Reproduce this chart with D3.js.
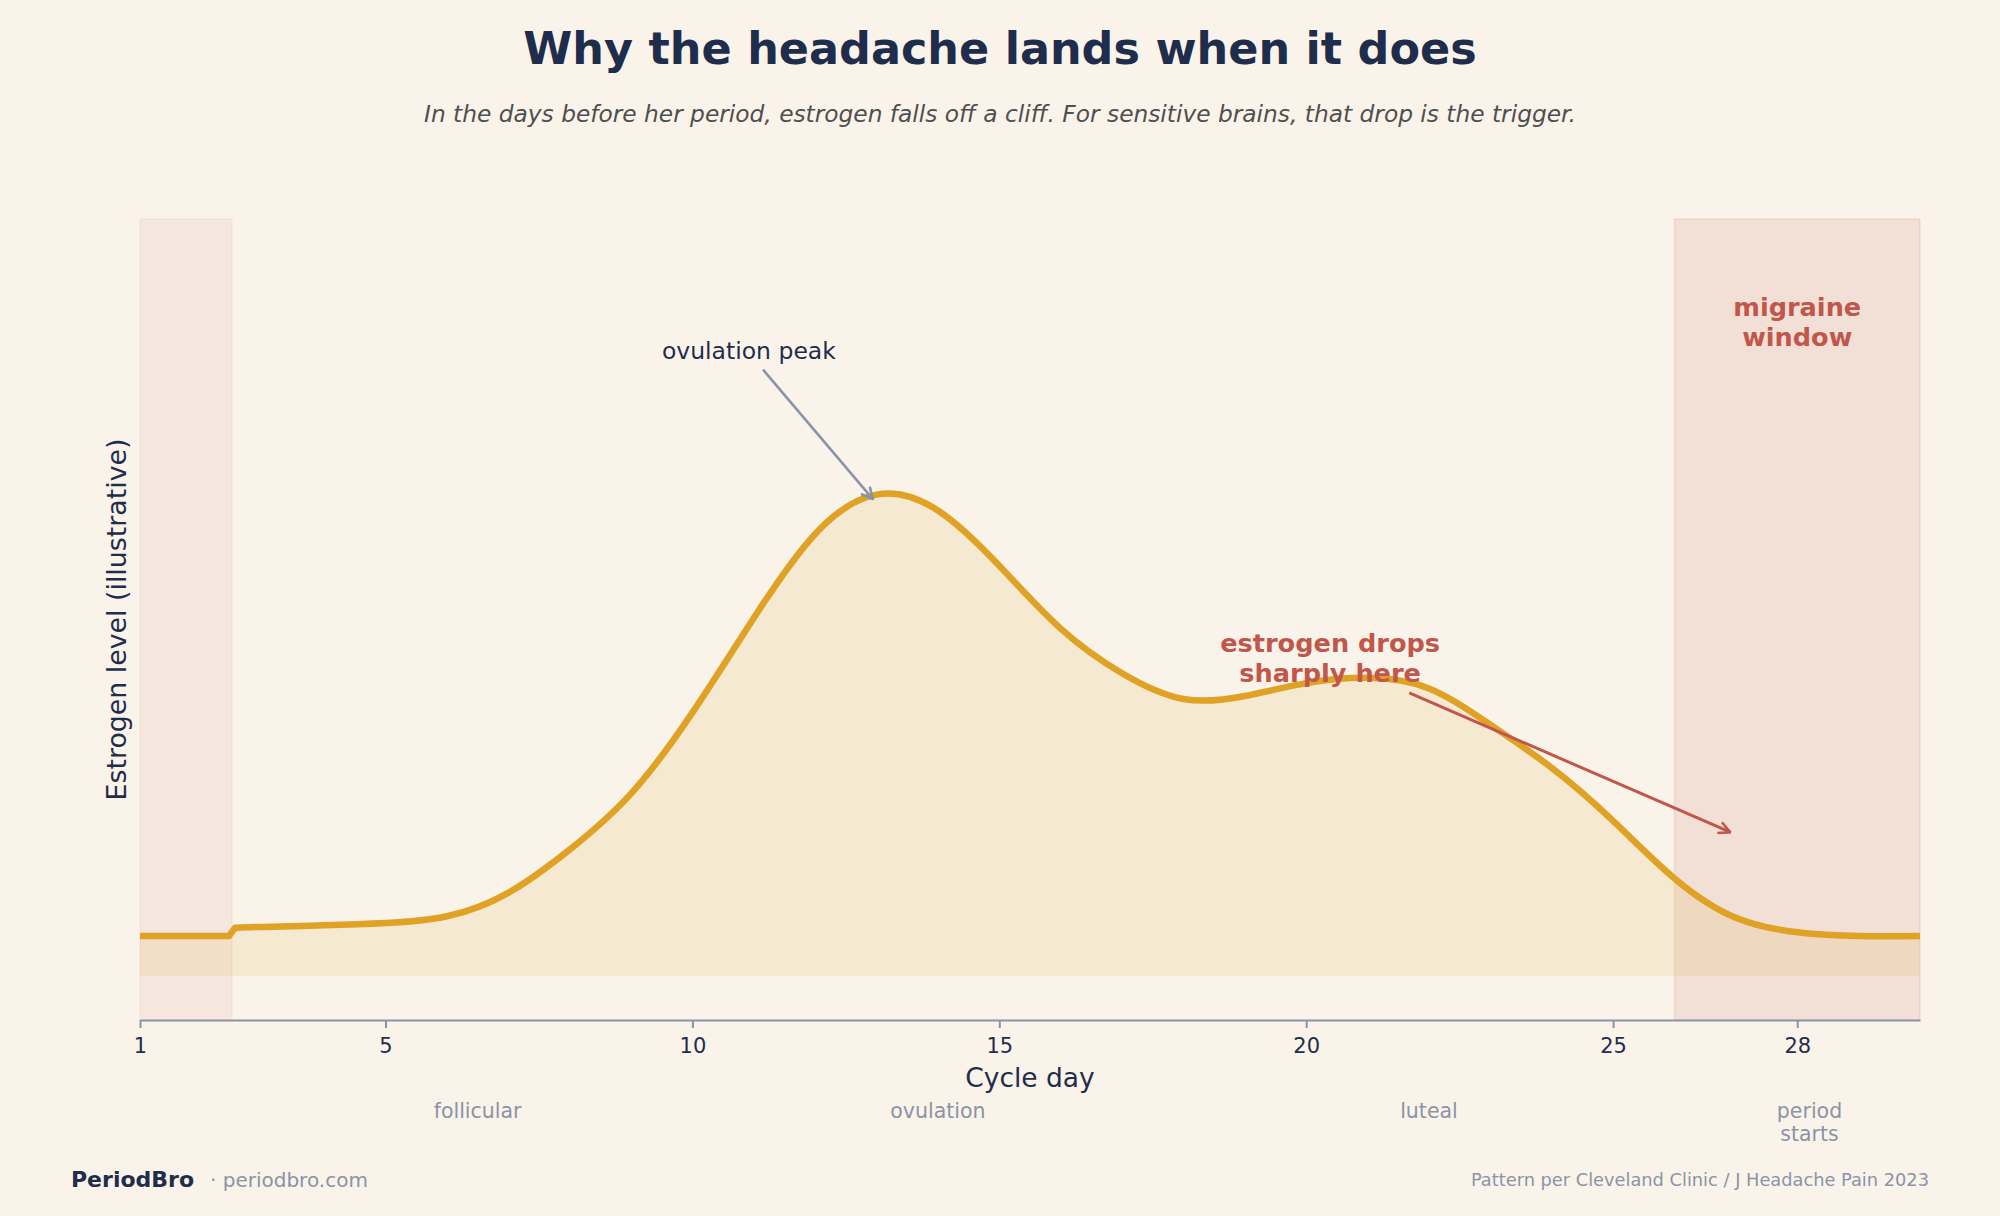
<!DOCTYPE html>
<html lang="en">
  <head>
    <meta charset="utf-8">
    <title>Why the headache lands when it does</title>
    <script src="https://d3js.org/d3.v7.min.js"></script>
    <style>
      body { margin: 0; background: #faf3ea; }
      text { font-family: "DejaVu Sans", sans-serif; }
    </style>
  </head>
  <body>
    <svg id="chart" width="2000" height="1216" xmlns="http://www.w3.org/2000/svg"></svg>
    <script>
      // values
      const days = [1, 2.45, 2.55, 3, 4, 5, 6, 7, 8, 9, 10, 11, 12, 13, 14, 15, 16, 17, 18, 19, 20, 21, 22, 23, 24, 25, 26, 27, 28, 29, 30];
      const estrogen = [0.053, 0.053, 0.064, 0.065, 0.067, 0.070, 0.079, 0.110, 0.167, 0.241, 0.348, 0.473, 0.584, 0.636, 0.615, 0.542, 0.459, 0.400, 0.366, 0.370, 0.387, 0.394, 0.380, 0.332, 0.275, 0.205, 0.129, 0.077, 0.058, 0.053, 0.053];
      const tickDays = [1, 5, 10, 15, 20, 25, 28];
      const phaseNames = ['follicular', 'ovulation', 'luteal', 'period|starts'];
      const phaseDays = [6.5, 14, 22, 28.2];
      const periodBand = [1, 2.5];
      const migraineBand = [26, 30];

      const svg = d3.select('#chart');
      const plotLeft = 140, plotRight = 1920, plotTop = 219, plotBottom = 1020;
      const navy = '#1f2d4d', slate = '#8a94a6', red = '#c0574a', gold = '#e0a224';

      let x = d3.scaleLinear().domain([1, 30]).range([plotLeft, plotRight]);
      let y = d3.scaleLinear().domain([-0.058, 1.0]).range([plotBottom, plotTop]);

      svg.append('rect').attr('width', 2000).attr('height', 1216).attr('fill', '#faf3ea');

      // shaded bands
      svg.append('rect')
        .attr('x', x(periodBand[0])).attr('width', x(periodBand[1]) - x(periodBand[0]))
        .attr('y', plotTop).attr('height', plotBottom - plotTop)
        .attr('fill', red).attr('fill-opacity', 0.07)
        .attr('stroke', red).attr('stroke-opacity', 0.06).attr('stroke-width', 1.5);
      svg.append('rect')
        .attr('x', x(migraineBand[0])).attr('width', x(migraineBand[1]) - x(migraineBand[0]))
        .attr('y', plotTop).attr('height', plotBottom - plotTop)
        .attr('fill', red).attr('fill-opacity', 0.12)
        .attr('stroke', red).attr('stroke-opacity', 0.12).attr('stroke-width', 1.5);

      const pts = days.map(function(d, i) { return {day: d, level: estrogen[i]}; });
      // period days are flat, then the smooth cycle curve picks up
      const flatPart = pts.filter(function(d) { return d.day <= periodBand[1] + 0.05; });
      const cyclePart = pts.filter(function(d) { return d.day >= periodBand[1] + 0.05; });

      function areaFor(curve) {
        return d3.area()
          .x(function(d) { return x(d.day); })
          .y0(y(0))
          .y1(function(d) { return y(d.level); })
          .curve(curve);
      }
      function lineFor(curve) {
        return d3.line()
          .x(function(d) { return x(d.day); })
          .y(function(d) { return y(d.level); })
          .curve(curve);
      }

      svg.append('path').attr('d', areaFor(d3.curveLinear)(flatPart))
        .attr('fill', gold).attr('fill-opacity', 0.12);
      svg.append('path').attr('d', areaFor(d3.curveNatural)(cyclePart))
        .attr('fill', gold).attr('fill-opacity', 0.12);
      svg.append('path')
        .attr('d', lineFor(d3.curveLinear)(flatPart) + lineFor(d3.curveNatural)(cyclePart).replace(/^M/, 'L'))
        .attr('fill', 'none').attr('stroke', gold).attr('stroke-width', 6.5)
        .attr('stroke-linejoin', 'round').attr('stroke-linecap', 'butt');

      // x axis
      let axis = svg.append('g')
        .attr('transform', 'translate(0,' + plotBottom + ')')
        .call(d3.axisBottom(x).tickValues(tickDays).tickFormat(d3.format('d'))
          .tickSize(8).tickSizeOuter(0).tickPadding(10));
      axis.select('.domain').attr('stroke', slate).attr('stroke-width', 2);
      axis.selectAll('.tick line').attr('stroke', slate).attr('stroke-width', 2);
      axis.selectAll('.tick text').attr('fill', navy).style('font-size', '21px')
        .style('font-family', '"DejaVu Sans", sans-serif');

      // arrow heads
      let defs = svg.append('defs');
      function head(id, color) {
        defs.append('marker').attr('id', id)
          .attr('viewBox', '0 0 12 12').attr('refX', 11).attr('refY', 6)
          .attr('markerWidth', 14).attr('markerHeight', 14)
          .attr('markerUnits', 'userSpaceOnUse').attr('orient', 'auto')
          .append('path').attr('d', 'M1,1 L11,6 L1,11')
          .attr('fill', 'none').attr('stroke', color).attr('stroke-width', 2.2);
      }
      head('head-slate', slate);
      head('head-red', red);

      // ovulation peak annotation
      svg.append('line')
        .attr('x1', x(11.15)).attr('y1', y(0.801))
        .attr('x2', x(12.94)).attr('y2', y(0.630))
        .attr('stroke', slate).attr('stroke-width', 2.6)
        .attr('marker-end', 'url(#head-slate)');
      svg.append('text')
        .attr('x', x(10.92)).attr('y', y(0.826))
        .attr('text-anchor', 'middle').attr('dominant-baseline', 'central')
        .attr('fill', navy).style('font-size', '23.5px')
        .text('ovulation peak');

      // drop annotation
      svg.append('line')
        .attr('x1', x(21.68)).attr('y1', y(0.374))
        .attr('x2', x(26.91)).attr('y2', y(0.190))
        .attr('stroke', red).attr('stroke-width', 3)
        .attr('marker-end', 'url(#head-red)');
      let drop = svg.append('text')
        .attr('text-anchor', 'middle').attr('fill', red)
        .style('font-size', '25.6px').style('font-weight', 'bold');
      drop.append('tspan').attr('x', x(20.39)).attr('y', y(0.440)).attr('dy', '0.36em').text('estrogen drops');
      drop.append('tspan').attr('x', x(20.39)).attr('y', y(0.400)).attr('dy', '0.36em').text('sharply here');

      let mig = svg.append('text')
        .attr('text-anchor', 'middle').attr('fill', red)
        .style('font-size', '25.6px').style('font-weight', 'bold');
      mig.append('tspan').attr('x', x(28)).attr('y', y(0.884)).attr('dy', '0.36em').text('migraine');
      mig.append('tspan').attr('x', x(28)).attr('y', y(0.844)).attr('dy', '0.36em').text('window');

      // phase labels under the axis
      phaseNames.forEach(function(name, i) {
        let t = svg.append('text')
          .attr('text-anchor', 'middle').attr('fill', slate)
          .style('font-size', '20.5px');
        name.split('|').forEach(function(part, j) {
          t.append('tspan').attr('x', x(phaseDays[i]))
            .attr('y', plotBottom + 91 + j * 23).attr('dy', '0.36em').text(part);
        });
      });

      // axis titles
      svg.append('text')
        .attr('x', (plotLeft + plotRight) / 2).attr('y', 1087)
        .attr('text-anchor', 'middle').attr('fill', navy)
        .style('font-size', '26.5px').text('Cycle day');
      svg.append('text')
        .attr('transform', 'translate(116,' + ((plotTop + plotBottom) / 2) + ') rotate(-90)')
        .attr('text-anchor', 'middle').attr('dominant-baseline', 'central')
        .attr('fill', navy).style('font-size', '26.8px')
        .text('Estrogen level (illustrative)');

      // title block
      svg.append('text')
        .attr('x', 1000).attr('y', 64)
        .attr('text-anchor', 'middle').attr('fill', navy)
        .style('font-size', '44.5px').style('font-weight', 'bold')
        .text('Why the headache lands when it does');
      svg.append('text')
        .attr('x', 1000).attr('y', 122)
        .attr('text-anchor', 'middle').attr('fill', '#4f4f4f')
        .style('font-size', '23.3px').style('font-style', 'italic')
        .text('In the days before her period, estrogen falls off a cliff. For sensitive brains, that drop is the trigger.');

      // footer
      svg.append('text')
        .attr('x', 71).attr('y', 1187).attr('fill', navy)
        .style('font-size', '22px').style('font-weight', 'bold')
        .text('PeriodBro');
      svg.append('text')
        .attr('x', 210).attr('y', 1187).attr('fill', slate)
        .style('font-size', '20px')
        .text('· periodbro.com');
      svg.append('text')
        .attr('x', 1929).attr('y', 1186).attr('text-anchor', 'end').attr('fill', slate)
        .style('font-size', '17.8px')
        .text('Pattern per Cleveland Clinic / J Headache Pain 2023');
    </script>
  </body>
</html>
